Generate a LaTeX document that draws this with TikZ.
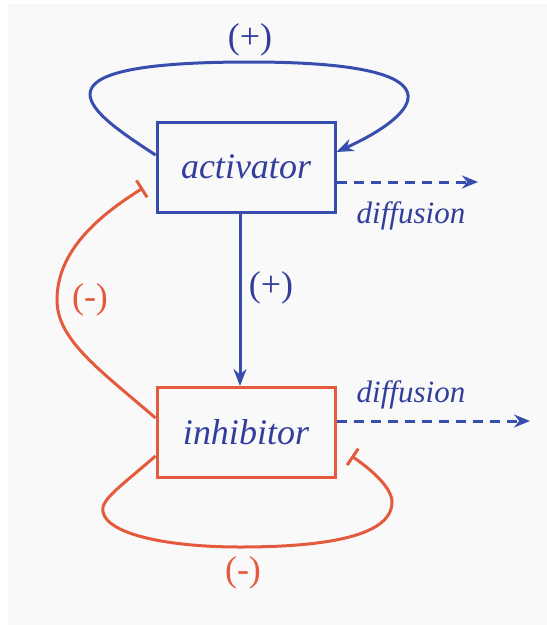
\documentclass[tikz,border=0pt]{standalone}
\usepackage{fontspec}
\setmainfont{Liberation Serif}
\usetikzlibrary{arrows.meta}
\definecolor{actblue}{RGB}{55,78,175}
\definecolor{txtblue}{RGB}{50,62,155}
\definecolor{inhred}{RGB}{228,90,60}
\definecolor{bggray}{RGB}{249,249,250}
\begin{document}
\begin{tikzpicture}[x=1pt,y=-1pt,
  boxbase/.style={draw, line width=3pt, minimum width=178pt, minimum height=90pt, inner sep=0pt,
    font=\fontsize{36}{40}\selectfont\itshape, text=txtblue},
  actbox/.style={boxbase, draw=actblue},
  inhbox/.style={boxbase, draw=inhred},
  bluelink/.style={draw=actblue, line width=3pt},
  redlink/.style={draw=inhred, line width=3pt},
  difflink/.style={draw=actblue, line width=3pt, dash pattern=on 10pt off 7pt,
    -{Stealth[length=16pt,width=13pt]}},
  plabel/.style={font=\fontsize{36}{40}\selectfont, text=txtblue},
  mlabel/.style={font=\fontsize{36}{40}\selectfont, text=inhred},
  dlabel/.style={font=\fontsize{31}{34}\selectfont\itshape, text=txtblue},
  bartip/.style={-{Bar[width=20pt,line width=3pt]}},
  arrtip/.style={-{Stealth[length=17pt,width=13pt]}}
]
\useasboundingbox (0,0) rectangle (547,625);
\fill[bggray] (8,4) rectangle (547,625);

\node[actbox] (act) at (246,167) {activator};
\node[inhbox] (inh) at (246,432.5) {inhibitor};

% activator self-loop
\draw[bluelink, arrtip] ([yshift=12pt]act.west)
  .. controls (95,115) and (10,62) .. (250,62) coordinate (toppt)
  .. controls (470,62) and (418,115) .. ([yshift=15pt]act.east);
\node[plabel] (plustop) at (250,40) {(+)};

% activator -> inhibitor
\draw[bluelink, arrtip] (act.south -| 240,0) -- (inh.north -| 240,0)
  node[plabel, pos=0.43, right=4pt] (plusmid) {(+)};

% diffusion arrows
\coordinate (actend) at (478,182);
\draw[difflink] ([yshift=-15pt]act.east) -- (actend);
\node[dlabel] (dact) at (411,216) {diffusion};

\coordinate (inhend) at (530,421);
\draw[difflink] ([yshift=11.5pt]inh.east) -- (inhend);
\node[dlabel] (dinh) at (411,395) {diffusion};

% inhibitor -| activator
\coordinate (barA) at (143,188);
\draw[redlink, bartip] ([yshift=14.5pt]inh.west)
  .. controls (100,370) and (57,340) .. (57,300)
  .. controls (57,250) and (100,215) .. (barA);
\node[mlabel] (minleft) at (90,300) {(-)};

% inhibitor self-loop
\coordinate (barI) at ([xshift=15pt,yshift=-23.5pt]inh.east);
\draw[redlink, bartip] ([yshift=-23.5pt]inh.west)
  .. controls (120,487) and (100,500) .. (103,512)
  .. controls (108,535) and (170,547) .. (240,547)
  .. controls (330,547) and (392,535) .. (392,502)
  .. controls (392,488) and (372,470) .. (barI);
\node[mlabel] (minbot) at (243,573) {(-)};
\end{tikzpicture}
\end{document}
